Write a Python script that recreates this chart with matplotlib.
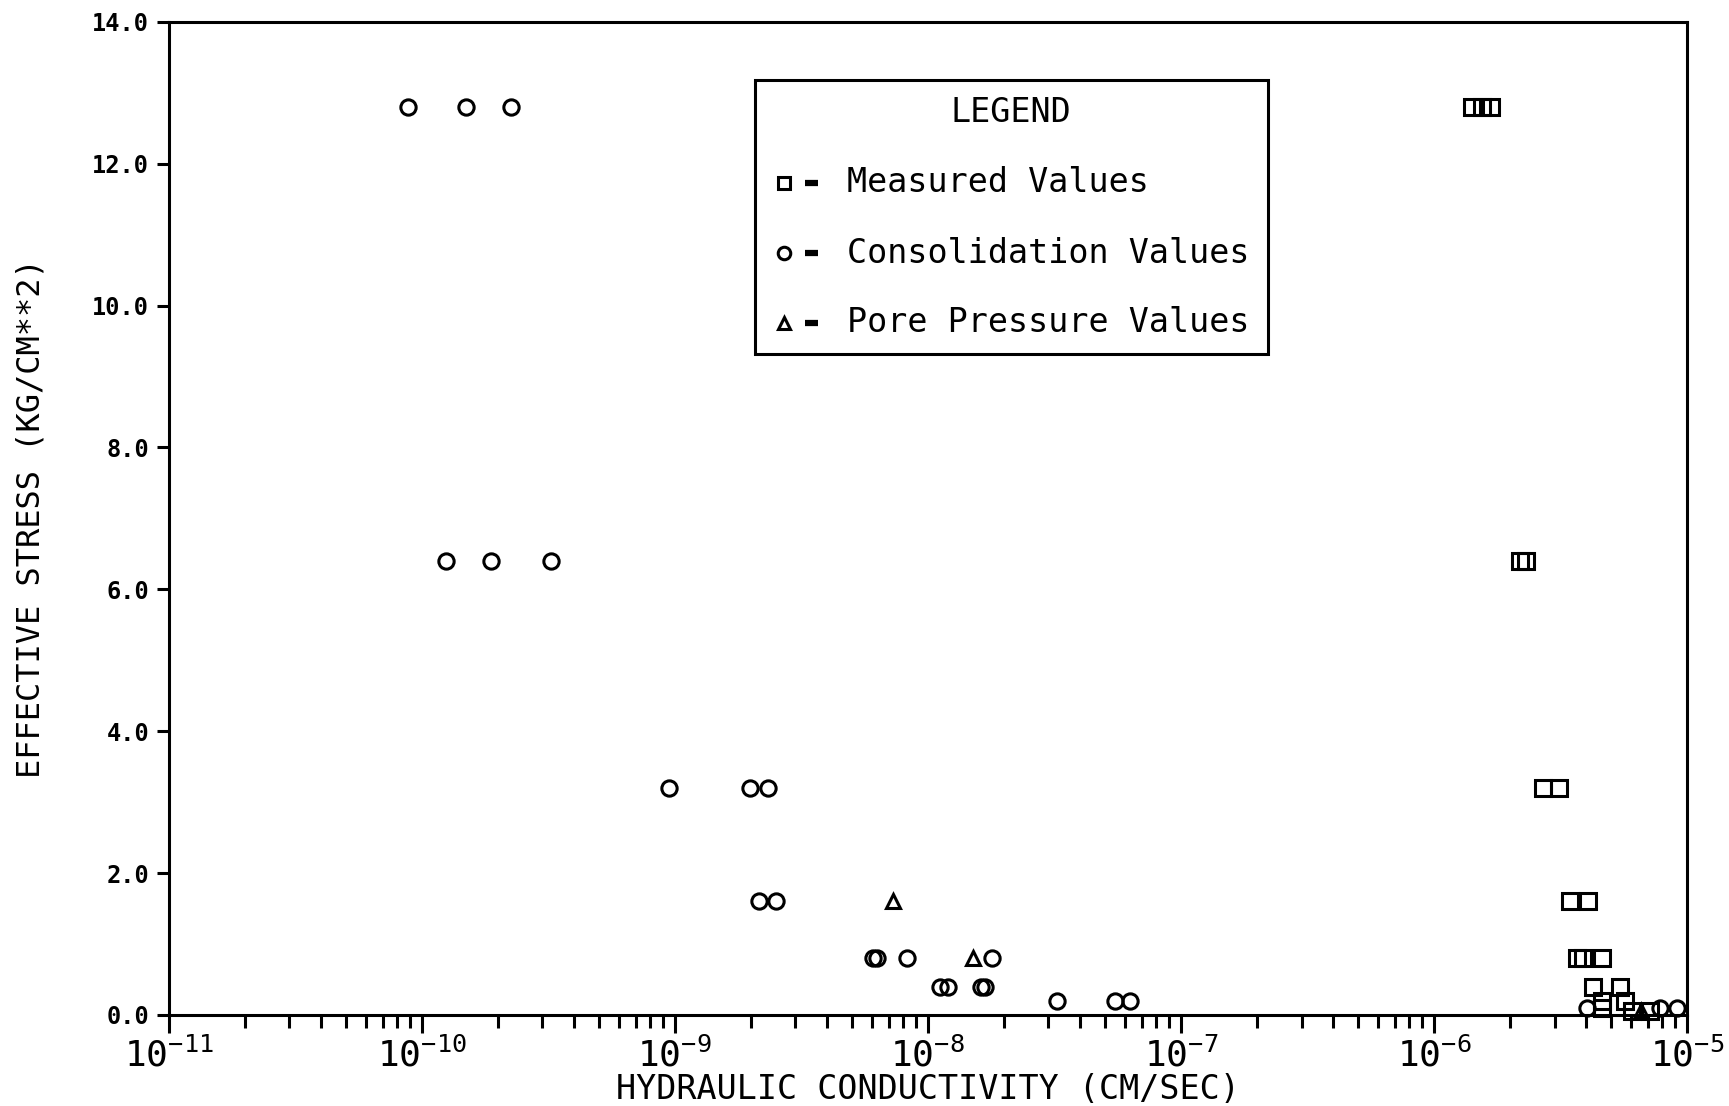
import numpy as np
import matplotlib.pyplot as plt
from matplotlib.patches import Rectangle

# --- data ---
# measured values (squares)
meas_k = [1.42e-6, 1.55e-6, 1.68e-6,
          2.20e-6, 2.32e-6,
          2.71e-6, 3.13e-6,
          3.46e-6, 4.07e-6,
          3.69e-6, 3.90e-6, 4.62e-6,
          4.27e-6, 5.44e-6,
          4.62e-6, 5.70e-6,
          4.62e-6,
          6.07e-6, 7.14e-6]
meas_s = [12.8, 12.8, 12.8,
          6.4, 6.4,
          3.2, 3.2,
          1.6, 1.6,
          0.8, 0.8, 0.8,
          0.4, 0.4,
          0.2, 0.2,
          0.1,
          0.05, 0.05]

# consolidation values (circles)
cons_k = [8.8e-11, 1.5e-10, 2.26e-10,
          1.25e-10, 1.87e-10, 3.25e-10,
          9.5e-10, 1.98e-9, 2.34e-9,
          2.16e-9, 2.52e-9,
          6.05e-9, 6.3e-9, 8.28e-9, 1.79e-8,
          1.12e-8, 1.20e-8, 1.63e-8, 1.69e-8,
          3.25e-8, 5.5e-8, 6.3e-8,
          4.04e-6, 7.83e-6, 9.14e-6]
cons_s = [12.8, 12.8, 12.8,
          6.4, 6.4, 6.4,
          3.2, 3.2, 3.2,
          1.6, 1.6,
          0.8, 0.8, 0.8, 0.8,
          0.4, 0.4, 0.4, 0.4,
          0.2, 0.2, 0.2,
          0.1, 0.1, 0.1]

# pore pressure values (triangles)
pore_k = [7.3e-9, 1.51e-8, 6.6e-6]
pore_s = [1.6, 0.8, 0.05]

legend_labels = ['Measured Values', 'Consolidation Values', 'Pore Pressure Values']

plt.rcParams['font.family'] = ['DejaVu Sans Mono']
plt.rcParams['mathtext.default'] = 'regular'

fig = plt.figure(figsize=(17.29, 11.06), dpi=100)
ax = fig.add_axes([0.0976, 0.0823, 0.878, 0.898])

mk = dict(linestyle='none', markerfacecolor='none', markeredgecolor='black',
          markeredgewidth=2.2, clip_on=False)
ax.plot(meas_k, meas_s, marker='s', markersize=11, **mk)
ax.plot(cons_k, cons_s, marker='o', markersize=11, **mk)
ax.plot(pore_k, pore_s, marker='^', markersize=10, **mk)

ax.set_xscale('log')
ax.set_xlim(1e-11, 1e-5)
ax.set_ylim(0, 14)
ax.set_yticks(np.arange(0, 14.1, 2.0))
ax.yaxis.set_major_formatter(plt.FormatStrFormatter('%.1f'))

for sp in ax.spines.values():
    sp.set_linewidth(2.2)

ax.tick_params(axis='x', which='major', direction='out', length=13, width=2.2,
               labelsize=26, pad=3)
ax.tick_params(axis='x', which='minor', direction='out', length=9, width=2.2)
ax.tick_params(axis='y', which='major', direction='out', length=9, width=2.2,
               labelsize=17, pad=5)
for lab in ax.get_yticklabels():
    lab.set_fontweight('bold')

ax.set_xlabel('HYDRAULIC CONDUCTIVITY (CM/SEC)', fontsize=24, va='center')
ax.xaxis.set_label_coords(0.5, -0.0755)
ax.set_ylabel('EFFECTIVE STRESS (KG/CM**2)', fontsize=23, va='center')
ax.yaxis.set_label_coords(-0.0905, 0.5)

# legend box drawn by hand in axes coordinates
x0, x1, y0, y1 = 0.386, 0.724, 0.666, 0.9416
ax.add_patch(Rectangle((x0, y0), x1 - x0, y1 - y0, transform=ax.transAxes,
                       fill=False, edgecolor='black', linewidth=2.2))
ax.text((x0 + x1) / 2, 0.909, 'LEGEND', transform=ax.transAxes,
        ha='center', va='center', fontsize=24)
rows = [0.838, 0.767, 0.697]
markers = ['s', 'o', '^']
for yy, m, lab in zip(rows, markers, legend_labels):
    ax.plot([0.405], [yy], marker=m, markersize=9, transform=ax.transAxes, **mk)
    ax.plot([0.419, 0.428], [yy, yy], color='black', linewidth=4.5,
            transform=ax.transAxes, solid_capstyle='butt')
    ax.text(0.4465, yy, lab, transform=ax.transAxes, ha='left', va='center',
            fontsize=24)

fig.savefig('out.png', dpi=100)
